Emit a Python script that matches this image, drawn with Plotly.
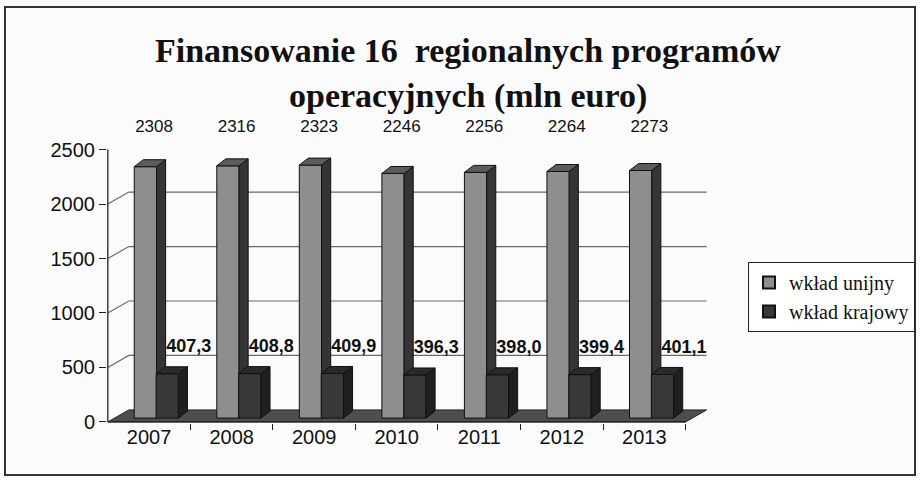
import plotly.graph_objects as go

# ---- data ----
years = ["2007", "2008", "2009", "2010", "2011", "2012", "2013"]
wklad_unijny = [2308, 2316, 2323, 2246, 2256, 2264, 2273]
wklad_krajowy = [407.3, 408.8, 409.9, 396.3, 398.0, 399.4, 401.1]
y_ticks = [0, 500, 1000, 1500, 2000, 2500]
series_names = ["wkład unijny", "wkład krajowy"]

# ---- pseudo-3D geometry (style) ----
WALL_DX, WALL_DY = 0.254, 110      # back wall offset (x units, y units)
BAR_DX, BAR_DY = 0.11, 64          # bar depth
BASE = 35                          # bars stand slightly inside the floor
U_OFF, K_OFF, BW = -0.18, 0.085, 0.27

n = len(years)
xs = list(range(n))

COL_U = ("#8e8e8e", "#353535", "#5c5c5c")
COL_K = ("#383838", "#1f1f1f", "#2a2a2a")

fig = go.Figure()

# floor
x_lo, x_hi = -0.5, n - 0.5
fig.add_trace(go.Scatter(
    x=[x_lo, x_hi, x_hi + WALL_DX, x_lo + WALL_DX, x_lo],
    y=[0, 0, WALL_DY, WALL_DY, 0],
    fill="toself", fillcolor="#4e4e4e", mode="lines",
    line=dict(color="#222", width=1), showlegend=False, hoverinfo="skip"))

# back wall grid lines + diagonal connectors
gx, gy = [], []
for v in y_ticks[1:-1]:
    gx += [x_lo, x_lo + WALL_DX, x_hi + WALL_DX, None]
    gy += [v, v + WALL_DY, v + WALL_DY, None]
fig.add_trace(go.Scatter(x=gx, y=gy, mode="lines",
                         line=dict(color="#6a6a6a", width=1.2),
                         showlegend=False, hoverinfo="skip"))


def faces(values, off):
    fx, fy, sx, sy, tx, ty = [], [], [], [], [], []
    for i, v in zip(xs, values):
        x0, x1 = i + off, i + off + BW
        yb, yt = BASE, BASE + v
        fx += [x0, x1, x1, x0, x0, None]
        fy += [yb, yb, yt, yt, yb, None]
        sx += [x1, x1 + BAR_DX, x1 + BAR_DX, x1, x1, None]
        sy += [yb, yb + BAR_DY, yt + BAR_DY, yt, yb, None]
        tx += [x0, x1, x1 + BAR_DX, x0 + BAR_DX, x0, None]
        ty += [yt, yt, yt + BAR_DY, yt + BAR_DY, yt, None]
    return (fx, fy), (sx, sy), (tx, ty)


for values, off, cols in ((wklad_unijny, U_OFF, COL_U), (wklad_krajowy, K_OFF, COL_K)):
    for (px, py), c in zip(faces(values, off), cols):
        fig.add_trace(go.Scatter(x=px, y=py, fill="toself", fillcolor=c,
                                 mode="lines", line=dict(color="#111", width=1),
                                 showlegend=False, hoverinfo="skip"))

# data labels
fig.add_trace(go.Scatter(
    x=[i + 0.06 for i in xs], y=[2700] * n, mode="text",
    text=[str(v) for v in wklad_unijny],
    textfont=dict(family="Liberation Sans, Arial", size=17, color="#111"),
    showlegend=False, hoverinfo="skip", cliponaxis=False))
fig.add_trace(go.Scatter(
    x=[i + 0.48 for i in xs], y=[v + 275 for v in wklad_krajowy], mode="text",
    text=[f"<b>{v:.1f}</b>".replace(".", ",") for v in wklad_krajowy],
    textfont=dict(family="Liberation Sans, Arial", size=18, color="#111"),
    showlegend=False, hoverinfo="skip", cliponaxis=False))

# axis lines
fig.add_trace(go.Scatter(x=[x_lo, x_lo, None, x_lo, x_hi], y=[0, y_ticks[-1], None, 0, 0],
                         mode="lines", line=dict(color="#222", width=1.3),
                         showlegend=False, hoverinfo="skip"))

# legend entries
for name, cols in zip(series_names, (COL_U, COL_K)):
    fig.add_trace(go.Scatter(x=[None], y=[None], mode="markers", name=name,
                             marker=dict(symbol="square", size=15, color=cols[0],
                                         line=dict(color="#111", width=1))))

fig.update_layout(
    width=920, height=480,
    margin=dict(l=107, r=213, t=118, b=57, autoexpand=False),
    paper_bgcolor="#fbfbfb", plot_bgcolor="#fbfbfb",
    font=dict(family="Liberation Sans, Arial", color="#111"),
    xaxis=dict(range=[-0.51, n - 0.5 + WALL_DX + 0.005], tickvals=xs, ticktext=years,
               showgrid=False, zeroline=False, showline=False, ticks="",
               tickfont=dict(size=20),
               minor=dict(tickvals=[i + 0.5 for i in xs], ticks="outside",
                          ticklen=6, tickcolor="#222", showgrid=False)),
    yaxis=dict(range=[-10, 2790], tickvals=y_ticks, showgrid=False, zeroline=False,
               showline=False, ticks="outside", ticklen=7, tickcolor="#222",
               tickfont=dict(size=20)),
    legend=dict(x=(748 - 107) / 600, y=(423 - 262) / 305, xanchor="left", yanchor="top",
                bgcolor="#ffffff", bordercolor="#222", borderwidth=1,
                font=dict(family="Liberation Serif, Times New Roman", size=20, color="#111"),
                itemsizing="constant"),
    showlegend=True,
)

title_font = dict(family="Liberation Serif, Times New Roman", size=34, color="#111")
fig.add_annotation(text="<b>Finansowanie 16  regionalnych programów</b>",
                   xref="paper", yref="paper", x=(468 - 107) / 600, y=(423 - 50) / 305,
                   xanchor="center", yanchor="middle", showarrow=False, font=title_font)
fig.add_annotation(text="<b>operacyjnych (mln euro)</b>",
                   xref="paper", yref="paper", x=(468 - 107) / 600, y=(423 - 96) / 305,
                   xanchor="center", yanchor="middle", showarrow=False, font=title_font)

# outer frame
fig.add_shape(type="rect", xref="paper", yref="paper",
              x0=(5 - 107) / 600, x1=(915 - 107) / 600,
              y0=(423 - 475) / 305, y1=(423 - 7) / 305,
              line=dict(color="#333", width=2), layer="below")

fig.write_html("out.html", config={"displayModeBar": False},
               post_script="document.body.style.margin='0px';document.body.style.overflow='hidden';")
